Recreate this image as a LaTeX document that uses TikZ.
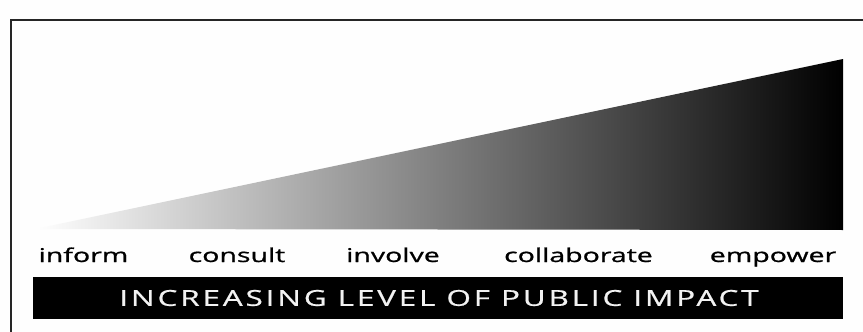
\documentclass[tikz,border=0pt]{standalone}
\usepackage{fontspec}
\setmainfont{Open Sans}
\newfontfamily\labfont[FakeBold=0.8]{Open Sans}
\newfontfamily\banfont[FakeBold=0.6, LetterSpace=9]{Open Sans}
\begin{document}
\begin{tikzpicture}[x=1pt,y=-1pt,
  lab/.style={anchor=base, inner sep=0pt, font=\labfont\fontsize{19}{19}\selectfont, text=black},
  bantext/.style={anchor=center, inner sep=0pt, font=\banfont\fontsize{22}{22}\selectfont, text=white!95!black}]
\useasboundingbox[fill=white!99.5!black] (0,0) rectangle (863,332);
\draw[line width=2pt, black!85] (10.5,332) -- (10.5,19.5) -- (863,19.5);
\coordinate (tip) at (35,229);
\coordinate (tr) at (843,59);
\coordinate (br) at (843,230);
\shade[left color=white, right color=black] (tip) -- (tr) -- (br) -- cycle;
\node[lab] (inform) at (83.5,262) {\scalebox{1.5}[1]{inform}};
\node[lab] (consult) at (237,262) {\scalebox{1.5}[1]{consult}};
\node[lab] (involve) at (393,262) {\scalebox{1.5}[1]{involve}};
\node[lab] (collab) at (578.5,262) {\scalebox{1.5}[1]{collaborate}};
\node[lab] (empower) at (773,262) {\scalebox{1.5}[1]{empower}};
\node[fill=black, minimum width=810pt, minimum height=42pt, inner sep=0pt] (bar) at (438,298) {};
\node[bantext] (bant) at (439,298) {\scalebox{1.43}[1]{INCREASING LEVEL OF PUBLIC IMPACT}};
\end{tikzpicture}
\end{document}
